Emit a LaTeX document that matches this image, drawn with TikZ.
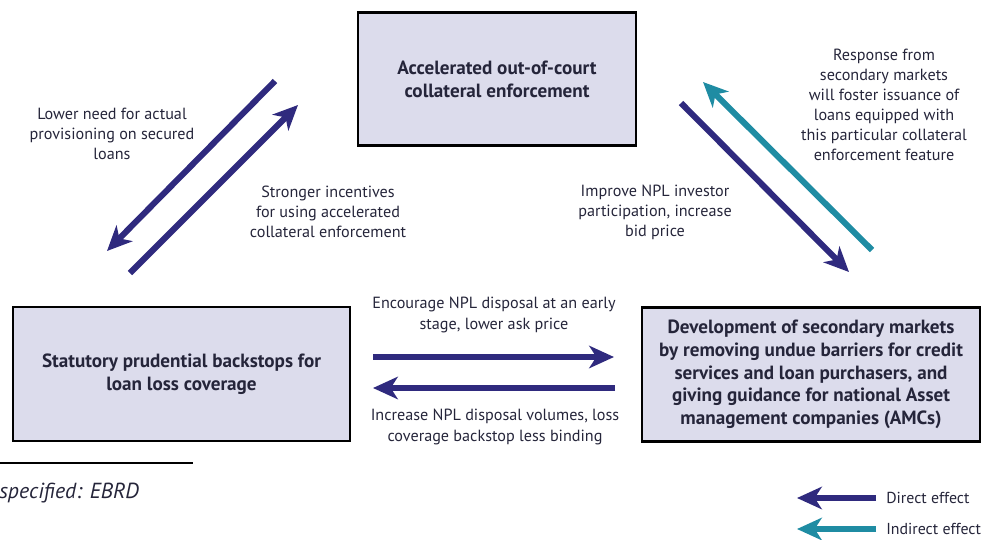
\documentclass[tikz,border=0pt]{standalone}
\usepackage{fontspec}
\setmainfont{PT Sans}
\usetikzlibrary{arrows.meta}

\definecolor{boxfill}{HTML}{DCDCEC}
\definecolor{navy}{HTML}{2F2A7E}
\definecolor{tealarrow}{HTML}{1F8CA3}
\definecolor{txt}{HTML}{25253A}

\begin{document}
\begin{tikzpicture}[
    x=0.025cm, y=-0.025cm,
    >={Stealth[length=0.62cm, width=0.56cm, inset=0.18cm]},
    box/.style={draw=black, line width=2pt, fill=boxfill, align=center,
        text=txt, font=\bfseries\fontsize{13.6}{16.2}\selectfont},
    lbl/.style={align=center, text=txt, font=\fontsize{11.5}{14.3}\selectfont},
    direct/.style={->, navy, line width=4.3pt},
    indirect/.style={->, tealarrow, line width=4.3pt}
]
    \useasboundingbox (0,0) rectangle (1008,540);

    % Boxes
    \node[box, minimum width=6.95cm, minimum height=3.32cm] (topbox) at (497,79)
        {Accelerated out-of-court\\collateral enforcement};
    \node[box, minimum width=8.42cm, minimum height=3.35cm] (leftbox) at (181.5,374)
        {Statutory prudential backstops for\\loan loss coverage};
    \node[box, minimum width=8.45cm, minimum height=3.33cm] (rightbox) at (811,374.5)
        {Development of secondary markets\\by removing undue barriers for credit\\services and loan purchasers, and\\giving guidance for national Asset\\management companies (AMCs)};

    % Arrow ends
    \coordinate (lowerA) at (275,81);
    \coordinate (lowerB) at (107,251);
    \coordinate (strongA) at (130,273);
    \coordinate (strongB) at (298,105);
    \coordinate (improveA) at (681,103);
    \coordinate (improveB) at (849,272);
    \coordinate (respA) at (872,250);
    \coordinate (respB) at (703,82);
    \coordinate (encA) at (373,357);
    \coordinate (encB) at (614,357);
    \coordinate (incA) at (615,388);
    \coordinate (incB) at (373,388);

    % Effects
    \draw[direct] (lowerA) -- (lowerB);
    \draw[direct] (strongA) -- (strongB);
    \draw[direct] (improveA) -- (improveB);
    \draw[indirect] (respA) -- (respB);
    \draw[direct] (encA) -- (encB);
    \draw[direct] (incA) -- (incB);

    % Labels
    \node[lbl] (lowerlbl) at (112,134) {Lower need for actual\\provisioning on secured\\loans};
    \node[lbl] (stronglbl) at (328,212) {Stronger incentives\\for using accelerated\\collateral enforcement};
    \node[lbl] (improvelbl) at (655,212) {Improve NPL investor\\participation, increase\\bid price};
    \node[lbl] (resplbl) at (884,105) {Response from\\secondary markets\\will foster issuance of\\loans equipped with\\this particular collateral\\enforcement feature};
    \node[lbl] (enclbl) at (494,315) {Encourage NPL disposal at an early\\stage, lower ask price};
    \node[lbl] (inclbl) at (495,427) {Increase NPL disposal volumes, loss\\coverage backstop less binding};

    % Footnote
    \coordinate (ruleA) at (0,463);
    \coordinate (ruleB) at (193,463);
    \draw[line width=0.8pt] (ruleA) -- (ruleB);
    \node[anchor=west, inner sep=0pt, text=txt, font=\itshape\fontsize{15.5}{18}\selectfont] (source) at (-1,493) {specified: EBRD};

    % Legend
    \coordinate (dirA) at (876,498);
    \coordinate (dirB) at (797,498);
    \coordinate (indA) at (876,529);
    \coordinate (indB) at (797,529);
    \draw[direct] (dirA) -- (dirB);
    \draw[indirect] (indA) -- (indB);
    \node[lbl, anchor=west, inner sep=0pt, font=\fontsize{11.3}{14}\selectfont] (dirlbl) at (886,498) {Direct effect};
    \node[lbl, anchor=west, inner sep=0pt, font=\fontsize{11.3}{14}\selectfont] (indlbl) at (886,529) {Indirect effect};

\end{tikzpicture}
\end{document}
